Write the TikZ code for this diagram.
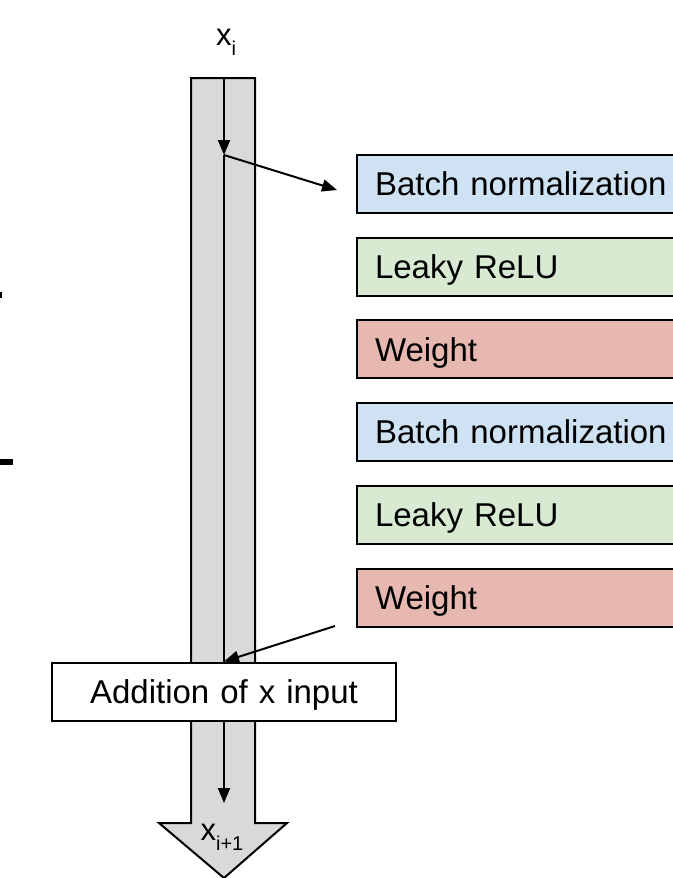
\documentclass[tikz,border=0pt]{standalone}
\usepackage{xcolor}
\usepackage{fontspec}
\setmainfont{Liberation Sans}
\usepackage{tikz}
\usetikzlibrary{arrows.meta}
\usetikzlibrary{positioning}
\definecolor{bnorm}{HTML}{CFE2F3}
\definecolor{lrelu}{HTML}{D9EAD3}
\definecolor{wght}{HTML}{E6B8AF}
\definecolor{shaft}{HTML}{D9D9D9}
\newcommand{\lowsub}[1]{\raisebox{-10pt}{\fontsize{20}{20}\selectfont #1}}

\begin{document}
\begin{tikzpicture}[
  x=1pt,y=-1pt,
  >={Triangle[length=15pt,width=12pt]},
  dep/.style ={
    ->,line width=2pt
  },
  layer/.style={
    rectangle,
    draw=black,
    line width=2pt,
    fill=#1,
    anchor=west,
    align=left,
    text width=308pt,
    inner xsep=18pt,
    minimum height=58pt,
    text height=23.6pt,
    text depth=0pt,
    font=\fontsize{33}{40}\selectfont},
  lbl/.style={
    inner sep=0pt,
    font=\fontsize{31}{36}\selectfont},
]
  \useasboundingbox (0,0) rectangle (672,878);

  \def\boxstep{82.7}%
  \def\boxbase{184}%
  \def\boxleft{356}%
  \def\mid{224}%

  % clipped marks on the left edge
  \fill (0,292) rectangle (2,298);
  \fill (0,459) rectangle (13,465);

  % residual shaft
  \draw[line width=2pt,fill=shaft,line join=miter]
    (191,78) -- (255,78) -- (255,823) -- (287,823) -- (\mid,878)
    -- (159,823) -- (191,823) -- cycle;

  \coordinate (xin) at (\mid,78);
  \coordinate (split) at (\mid,155);
  \coordinate (xend) at (\mid,803);

  \node[lbl] (xi) at (226,42) {x\lowsub{i}};
  \node[lbl] (xnext) at (222,837) {x\lowsub{i+1}};

  % layers
  \foreach \name/\col/\txt [count=\step from 0] in
      {bn1/bnorm/Batch normalization, lr1/lrelu/Leaky ReLU, w1/wght/Weight,
       bn2/bnorm/Batch normalization, lr2/lrelu/Leaky ReLU, w2/wght/Weight} {
    \node[layer={\col}] (\name) at (\boxleft, \boxbase+\step*\boxstep) {\txt};
  }

  \draw[dep] (xin) to (split);
  \draw[dep] (split) to (xend);

  \coordinate (bnin) at (337,190);
  \draw[dep] (split) to (bnin);

  \node[layer={white},anchor=center,text width=308pt,align=center] (add) at (\mid,691.5) {Addition of x input};

  \coordinate (wout) at (335,626);
  \draw[dep] (wout) to (add.north);

\end{tikzpicture}
\end{document}
